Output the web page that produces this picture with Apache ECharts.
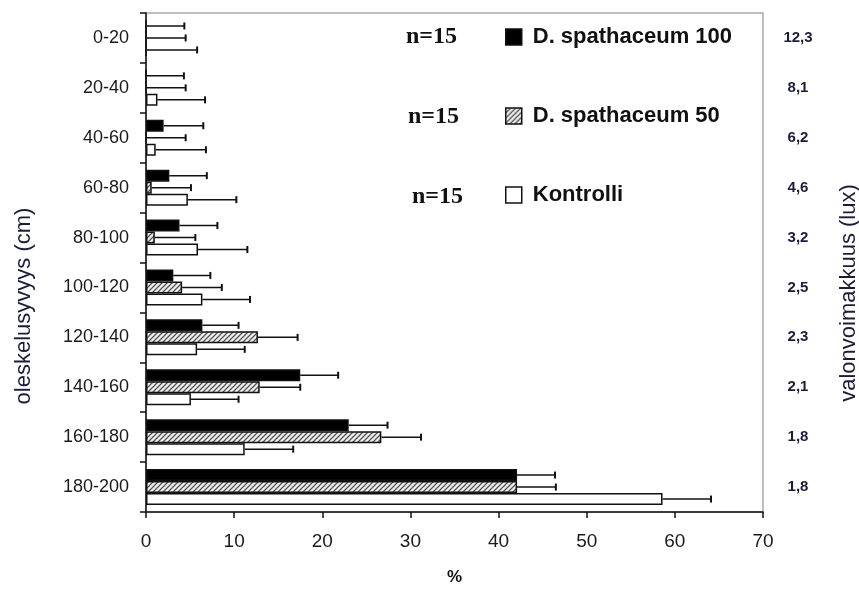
<!DOCTYPE html>
<html>
<head>
<meta charset="utf-8">
<title>oleskelusyvyys</title>
<script src="https://cdn.jsdelivr.net/npm/echarts@6/dist/echarts.min.js"></script>
</head>
<body style="margin:0;background:#fff">
<div id="main" style="width:859px;height:591px;"></div>
<script>
// syvyysluokat (cm) ja valonvoimakkuus (lux)
var depths = ['0-20', '20-40', '40-60', '60-80', '80-100', '100-120', '120-140', '140-160', '160-180', '180-200'];
var luxValues = ['12,3', '8,1', '6,2', '4,6', '3,2', '2,5', '2,3', '2,1', '1,8', '1,8'];
var seriesNames = ['D. spathaceum 100', 'D. spathaceum 50', 'Kontrolli'];
var nLabels = ['n=15', 'n=15', 'n=15'];
var xTicks = [0, 10, 20, 30, 40, 50, 60, 70];

// osuudet (%) ja keskihajonnat
var ds100 = [0, 0, 2.0, 2.65, 3.8, 3.1, 6.4, 17.5, 23.0, 42.1];
var ds100Err = [4.35, 4.3, 4.5, 4.25, 4.3, 4.2, 4.1, 4.3, 4.4, 4.3];
var ds50 = [0, 0, 0, 0.65, 1.0, 4.1, 12.7, 12.9, 26.7, 42.1];
var ds50Err = [4.5, 4.5, 4.5, 4.45, 4.6, 4.5, 4.5, 4.6, 4.5, 4.4];
var kontrolli = [0, 1.3, 1.1, 4.75, 5.9, 6.4, 5.8, 5.1, 11.2, 58.6];
var kontrolliErr = [5.8, 5.4, 5.7, 5.5, 5.6, 5.4, 5.4, 5.4, 5.5, 5.5];

var values = [ds100, ds50, kontrolli];
var errors = [ds100Err, ds50Err, kontrolliErr];

var barW = 12;
var textColor = '#1a1a1a';
var navy = '#1c1c3a';

// vinoviivoitus D. spathaceum 50 -palkeille
var hatch = document.createElement('canvas');
hatch.width = 5; hatch.height = 5;
var ctx = hatch.getContext('2d');
ctx.fillStyle = '#f0f0f0';
ctx.fillRect(0, 0, 5, 5);
ctx.strokeStyle = '#555';
ctx.lineWidth = 1.3;
ctx.beginPath();
ctx.moveTo(0, 5); ctx.lineTo(5, 0);
ctx.moveTo(-1, 1); ctx.lineTo(1, -1);
ctx.moveTo(4, 6); ctx.lineTo(6, 4);
ctx.stroke();

var fills = ['#000', {image: hatch, repeat: 'repeat'}, '#fff'];

var errData = [];
for (var s = 0; s < 3; s++) {
    for (var i = 0; i < depths.length; i++) {
        errData.push([i, s, values[s][i], errors[s][i]]);
    }
}

// virhejanat vain positiiviseen suuntaan
function renderErr(params, api) {
    var cat = api.value(0), s = api.value(1), v = api.value(2), e = api.value(3);
    var p0 = api.coord([v, cat]);
    var p1 = api.coord([v + e, cat]);
    var y = p0[1] + (s - 1) * barW;
    return {
        type: 'group',
        children: [
            {type: 'line', shape: {x1: p0[0], y1: y, x2: p1[0], y2: y}, style: {stroke: '#111', lineWidth: 1.5}},
            {type: 'line', shape: {x1: p1[0], y1: y - 3.5, x2: p1[0], y2: y + 3.5}, style: {stroke: '#111', lineWidth: 2}}
        ]
    };
}

var series = seriesNames.map(function (name, s) {
    return {
        name: name,
        type: 'bar',
        data: values[s],
        barWidth: barW,
        barGap: '0%',
        itemStyle: {color: fills[s], borderColor: '#111', borderWidth: 1.5},
        emphasis: {disabled: true}
    };
});
series.push({
    type: 'custom',
    renderItem: renderErr,
    data: errData,
    encode: {x: 2, y: 0},
    z: 3,
    silent: true
});

var graphic = [
    {type: 'text', x: 24, y: 306, rotation: Math.PI / 2,
        style: {text: 'oleskelusyvyys (cm)', fill: navy, font: '22px Arial, "Liberation Sans"', align: 'center', verticalAlign: 'middle'}},
    {type: 'text', x: 849, y: 293, rotation: Math.PI / 2,
        style: {text: 'valonvoimakkuus (lux)', fill: navy, font: '22px Arial, "Liberation Sans"', align: 'center', verticalAlign: 'middle'}}
];
var nPos = [[406, 37], [408, 117], [412, 197]];
nLabels.forEach(function (t, k) {
    graphic.push({type: 'text', x: nPos[k][0], y: nPos[k][1],
        style: {text: t, fill: '#111', font: 'bold 24px "Liberation Serif", "Times New Roman", serif', verticalAlign: 'middle'}});
});

var option = {
    animation: false,
    backgroundColor: '#fff',
    grid: {left: 146, right: 96, top: 13, bottom: 74, show: true, borderColor: '#aaa', borderWidth: 1.5},
    legend: {
        orient: 'vertical',
        left: 505,
        top: 26,
        itemWidth: 16,
        itemHeight: 16,
        itemGap: 57,
        padding: 0,
        icon: 'rect',
        selectedMode: false,
        data: seriesNames,
        itemStyle: {borderColor: '#111', borderWidth: 1.5},
        textStyle: {fontSize: 22, fontWeight: 'bold', fontFamily: 'Arial, "Liberation Sans"', color: '#111', padding: [0, 0, 0, 6]}
    },
    xAxis: {
        type: 'value',
        min: xTicks[0],
        max: xTicks[xTicks.length - 1],
        interval: 10,
        name: '%',
        nameLocation: 'middle',
        nameGap: 57,
        nameTextStyle: {fontSize: 17, fontWeight: 'bold', color: '#111', fontFamily: 'Arial, "Liberation Sans"'},
        splitLine: {show: false},
        axisLine: {show: true, lineStyle: {color: '#111', width: 1.5}},
        axisTick: {show: true, length: 6, lineStyle: {color: '#111', width: 1.5}},
        axisLabel: {fontSize: 19, color: textColor, margin: 20, fontFamily: '"Liberation Sans Narrow", "Arial Narrow", Arial, "Liberation Sans"'}
    },
    yAxis: [{
        type: 'category',
        data: depths,
        inverse: true,
        axisLine: {show: true, lineStyle: {color: '#111', width: 1.5}},
        axisTick: {show: true, length: 6, lineStyle: {color: '#111', width: 1.5}},
        axisLabel: {fontSize: 18, color: textColor, margin: 17, fontFamily: 'Arial, "Liberation Sans"'}
    }, {
        type: 'category',
        data: luxValues,
        inverse: true,
        position: 'right',
        axisLine: {show: false},
        axisTick: {show: false},
        axisLabel: {fontSize: 15, fontWeight: 'bold', color: navy, margin: 35, align: 'center', fontFamily: 'Arial, "Liberation Sans"'}
    }],
    graphic: graphic,
    series: series
};

var myChart = echarts.init(document.getElementById('main'));
myChart.setOption(option);
</script>
</body>
</html>
